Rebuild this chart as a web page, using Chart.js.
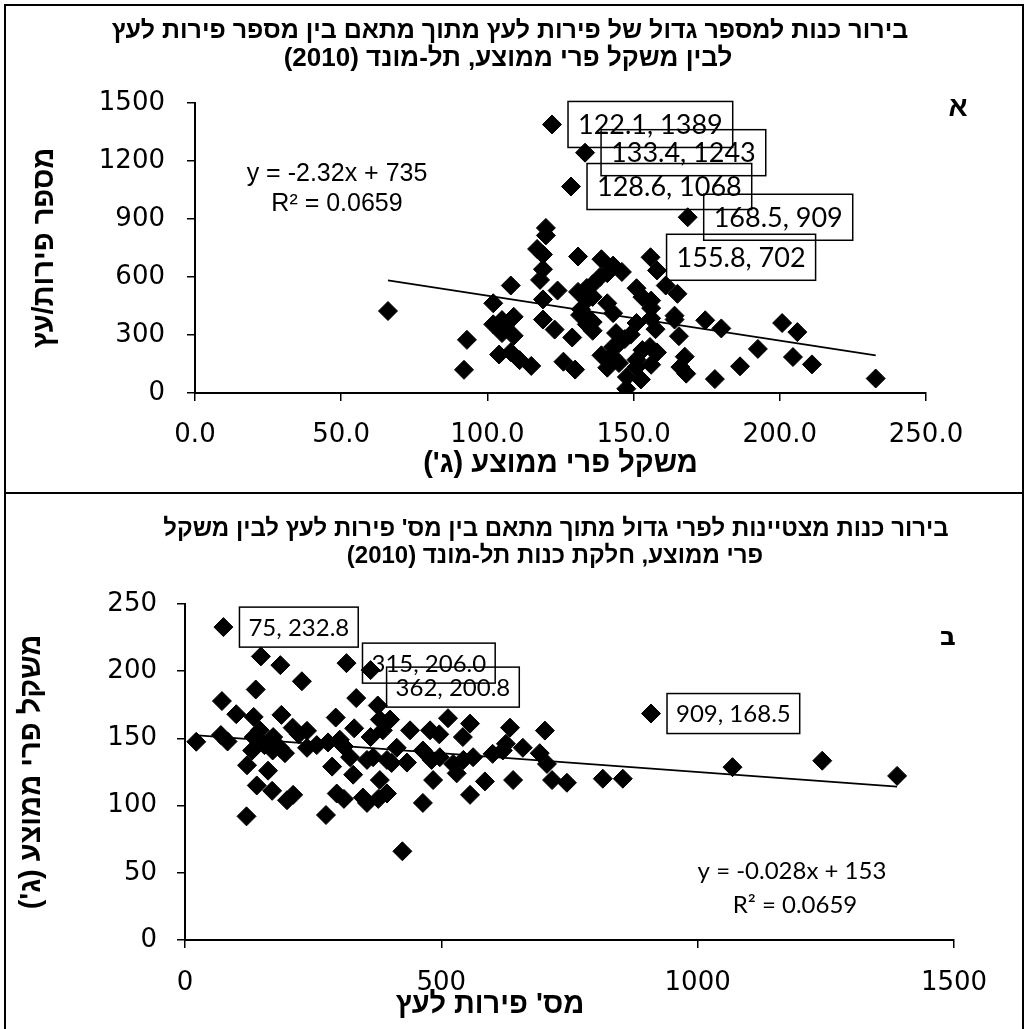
<!DOCTYPE html>
<html lang="he">
<head>
<meta charset="utf-8">
<script src="https://cdn.jsdelivr.net/npm/chart.js@4.4.0/dist/chart.umd.min.js"></script>
<style>
  html, body { margin: 0; padding: 0; background: #fff; }
  #page { position: relative; width: 1027px; height: 1029px; overflow: hidden; }
  canvas { position: absolute; left: 0; }
  #canvasA { top: 0; }
  #canvasB { top: 494px; }
  #frame { position: absolute; left: 4px; top: 4px; width: 1016px; height: 1100px; border: 2px solid #000; pointer-events: none; }
  #sep { position: absolute; left: 4px; top: 492px; width: 1020px; border-top: 2px solid #000; pointer-events: none; }
</style>
</head>
<body>
<div id="page">
  <canvas id="canvasA" dir="rtl" width="1027" height="494"></canvas>
  <canvas id="canvasB" dir="rtl" width="1027" height="535"></canvas>
  <div id="frame"></div>
  <div id="sep"></div>
</div>
<script>
// Average fruit weight (g) and fruits per tree, one pair per tree
const fruitWeight = [
  232.8, 211, 204.5, 206.0, 200.8, 192.5, 186.4, 177.8, 168, 180,
  174.5, 165.5, 157.5, 167.5, 158, 147.5, 152.5, 156, 151, 143,
  139, 141, 130, 126, 115, 111, 108, 104, 92, 93,
  109, 145, 147, 149, 129, 136, 123, 106, 102, 119,
  109, 164, 164, 156, 143, 156, 132, 102, 156, 66,
  136, 134, 134, 165, 161, 158, 155.8, 168.5, 151, 141,
  136, 131, 136, 141, 143, 139, 131, 119, 124, 118,
  119, 108, 119, 117, 120, 120, 128.6, 122.1, 133.4, 134,
  134, 138.5, 153, 131.7, 144, 143, 153, 141, 145, 151,
  147.7, 166, 105, 105, 155.6, 151, 146
];
const fruitCount = [
  75, 148, 186, 315, 362, 228, 138, 72, 100, 334,
  376, 294, 330, 188, 210, 22, 70, 146, 172, 185,
  195, 131, 121, 162, 140, 170, 211, 199, 120, 275,
  296, 257, 279, 302, 287, 322, 328, 347, 355, 380,
  394, 380, 400, 386, 413, 439, 433, 464, 478, 424,
  367, 355, 394, 513, 556, 634, 702, 909, 542, 464,
  497, 523, 562, 620, 659, 692, 706, 484, 530, 585,
  640, 556, 716, 745, 815, 854, 1068, 1389, 1243, 543,
  481, 600, 496, 403, 310, 238, 222, 171, 155, 134,
  83, 134, 310, 377, 238, 362, 626
];

// trendline end points
const trendAx = [66.0, 232.8];
const trendAy = [582, 195];
const trendBx = [25, 1389];
const trendBy = [152.3, 114.1];

// labelled points
const labelledCounts = [1389, 1243, 1068, 909, 702];
const labelledWeights = [232.8, 206.0, 200.8, 168.5];

const xTicksA = [0, 50, 100, 150, 200, 250];
const yTicksA = [0, 300, 600, 900, 1200, 1500];
const xTicksB = [0, 500, 1000, 1500];
const yTicksB = [0, 50, 100, 150, 200, 250];

const titleA = ['בירור כנות למספר גדול של פירות לעץ מתוך מתאם בין מספר פירות לעץ', 'לבין משקל פרי ממוצע, תל-מונד (2010)'];
const titleB = ['בירור כנות מצטיינות לפרי גדול מתוך מתאם בין מס\' פירות לעץ לבין משקל', 'פרי ממוצע, חלקת כנות תל-מונד (2010)'];
const weightTitle = 'משקל פרי ממוצע (ג\')';
const countTitleA = 'מספר פירות/עץ';
const countTitleB = 'מס\' פירות לעץ';

const pointsA = fruitWeight.map((w, i) => ({ x: w, y: fruitCount[i] }));
const pointsB = fruitWeight.map((w, i) => ({ x: fruitCount[i], y: w }));

const labelsA = pointsA.filter(p => labelledCounts.includes(p.y))
  .sort((a, b) => b.y - a.y)
  .map(p => ({ x: p.x, y: p.y, text: `${p.x.toFixed(1)}, ${p.y}` }));
const labelsB = pointsB.filter(p => labelledWeights.includes(p.y))
  .sort((a, b) => b.y - a.y)
  .map(p => ({ x: p.x, y: p.y, text: `${p.x}, ${p.y.toFixed(1)}`, dy: p.y === 200.8 ? 17 : 0 }));

const tickFont = { family: "'DejaVu Sans', sans-serif", size: 26 };
const axisTitleFont = { family: "'Liberation Sans', Arial, sans-serif", size: 29, weight: 'bold' };
const narrowBold = "'Liberation Sans Narrow', 'Liberation Sans', Arial, sans-serif";

// data label boxes and free texts (chart titles, equations, panel letters)
const annotate = {
    id: 'annotate',
    afterDatasetsDraw(chart, args, opts) {
        const ctx = chart.ctx;
        const xs = chart.scales.x;
        const ys = chart.scales.y;
        ctx.save();
        ctx.direction = 'ltr';
        ctx.fillStyle = '#000';
        ctx.strokeStyle = '#000';
        ctx.lineWidth = 1.5;
        ctx.textBaseline = 'middle';
        ctx.textAlign = 'left';
        ctx.font = opts.labelFont;
        opts.labels.forEach(l => {
            const px = xs.getPixelForValue(l.x);
            const py = ys.getPixelForValue(l.y) + (l.dy || 0);
            const w = ctx.measureText(l.text).width + opts.padX * 2;
            const left = px + opts.gap;
            ctx.strokeRect(left, py - opts.boxH / 2, w, opts.boxH);
            ctx.fillText(l.text, left + opts.padX, py + 1);
        });
        opts.texts.forEach(t => {
            ctx.font = t.font;
            ctx.direction = t.dir || 'ltr';
            ctx.textAlign = 'center';
            ctx.fillText(t.text, t.x, t.y);
        });
        ctx.restore();
    }
};

function axis(min, max, ticks, fmt, tickPad, fitFn, title) {
    return {
        type: 'linear',
        min: min,
        max: max,
        afterBuildTicks: s => { s.ticks = ticks.map(v => ({ value: v })); },
        ticks: { callback: fmt, font: tickFont, color: '#000', padding: tickPad, maxRotation: 0 },
        grid: { drawOnChartArea: false, drawTicks: true, tickLength: 8, color: '#000', lineWidth: 1.5 },
        border: { display: true, color: '#000', width: 2 },
        title: title,
        afterFit: fitFn
    };
}

function scatterChart(canvasId, points, trend, cfg) {
    return new Chart(document.getElementById(canvasId), {
        type: 'scatter',
        data: {
            datasets: [
                {
                    data: points,
                    pointStyle: 'rectRot',
                    pointRadius: 9.5,
                    backgroundColor: '#000',
                    borderColor: '#000',
                    borderWidth: 1,
                    order: 1
                },
                {
                    type: 'line',
                    data: trend,
                    borderColor: '#000',
                    borderWidth: 1.8,
                    pointRadius: 0,
                    fill: false,
                    order: 0
                }
            ]
        },
        options: {
            responsive: false,
            animation: false,
            layout: { padding: cfg.padding },
            plugins: {
                legend: { display: false },
                tooltip: { enabled: false },
                title: { display: false },
                annotate: cfg.annotate
            },
            scales: { x: cfg.x, y: cfg.y }
        },
        plugins: [annotate]
    });
}

scatterChart('canvasA', pointsA, trendAx.map((x, i) => ({ x: x, y: trendAy[i] })), {
    padding: { left: 0, right: 101, top: 103, bottom: 0 },
    x: axis(0, 250, xTicksA, v => v.toFixed(1), 19, s => { s.height = 101; },
        { display: true, text: weightTitle, color: '#000', font: axisTitleFont, padding: { top: 0, bottom: 13 } }),
    y: axis(0, 1500, yTicksA, v => String(v), 22, s => { s.width = 195; },
        { display: true, text: countTitleA, color: '#000', font: axisTitleFont, padding: { top: 28, bottom: 0 } }),
    annotate: {
        labels: labelsA,
        labelFont: "27px Lato, 'Open Sans', sans-serif",
        boxH: 46, padX: 10, gap: 16,
        texts: [
            { text: titleA[0], x: 510, y: 31, font: `bold 25px ${narrowBold}`, dir: 'rtl' },
            { text: titleA[1], x: 508, y: 59, font: `bold 26px ${narrowBold}`, dir: 'rtl' },
            { text: 'y = -2.32x + 735', x: 337, y: 174, font: "25px 'Liberation Sans', Arial, sans-serif" },
            { text: 'R² = 0.0659', x: 337, y: 204, font: "25px 'Liberation Sans', Arial, sans-serif" },
            { text: 'א', x: 958, y: 108, font: "bold 28px 'Liberation Sans', Arial, sans-serif", dir: 'rtl' }
        ]
    }
});

scatterChart('canvasB', pointsB, trendBx.map((x, i) => ({ x: x, y: trendBy[i] })), {
    padding: { left: 0, right: 73, top: 110, bottom: 0 },
    x: axis(0, 1500, xTicksB, v => String(v), 20, s => { s.height = 89; }, { display: false }),
    y: axis(0, 250, yTicksB, v => String(v), 20, s => { s.width = 185; },
        { display: true, text: weightTitle, color: '#000', font: axisTitleFont, padding: { top: 15, bottom: 0 } }),
    annotate: {
        labels: labelsB,
        labelFont: "24px Lato, 'Open Sans', sans-serif",
        boxH: 40, padX: 9, gap: 16,
        texts: [
            { text: titleB[0], x: 556, y: 35, font: `bold 24px ${narrowBold}`, dir: 'rtl' },
            { text: titleB[1], x: 555, y: 62, font: `bold 24px ${narrowBold}`, dir: 'rtl' },
            { text: 'y = -0.028x + 153', x: 792, y: 377, font: "24px Lato, 'Open Sans', sans-serif" },
            { text: 'R² = 0.0659', x: 795, y: 411, font: "24px Lato, 'Open Sans', sans-serif" },
            { text: 'ב', x: 948, y: 144, font: "bold 26px 'DejaVu Sans', sans-serif", dir: 'rtl' },
            { text: countTitleB, x: 490, y: 511, font: "bold 29px 'Liberation Sans', Arial, sans-serif", dir: 'rtl' }
        ]
    }
});
</script>
</body>
</html>
